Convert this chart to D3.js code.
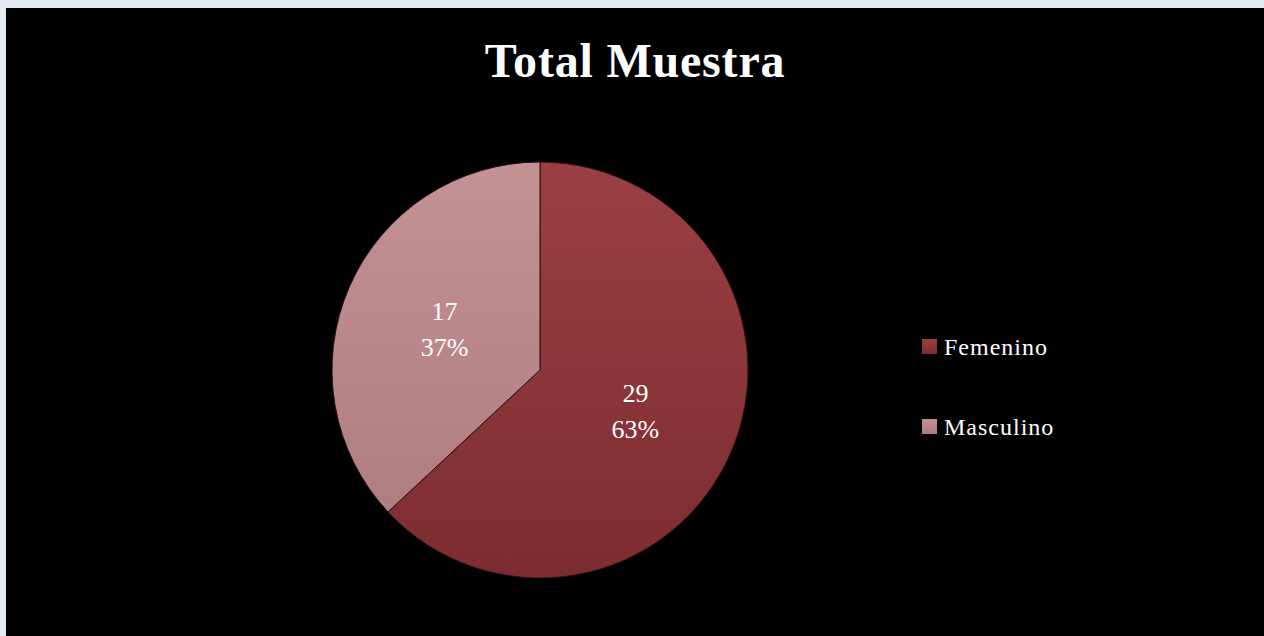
<!DOCTYPE html>
<html>
<head>
<meta charset="utf-8">
<script src="https://cdn.jsdelivr.net/npm/d3@7"></script>
<style>
  html, body { margin: 0; padding: 0; background: #e4e8f0; }
  #chart { position: absolute; left: 6px; top: 8px; }
</style>
</head>
<body>
<div id="chart"></div>
<script>
// data
const categories = ["Femenino", "Masculino"]
const counts = [29, 17]
const percents = ["63%", "37%"]
const topColors = ["#9a4044", "#c49294"]
const bottomColors = ["#7c2c30", "#ac7a7c"]

const width = 1258, height = 628
const svg = d3.select("#chart").append("svg")
    .attr("width", width).attr("height", height)
    .style("display", "block")

svg.append("rect").attr("width", width).attr("height", height).attr("fill", "#000")

const cx = 534, cy = 362, radius = 208

let defs = svg.append("defs")
categories.forEach((c, i) => {
    let grad = defs.append("linearGradient")
        .attr("id", "grad" + i)
        .attr("gradientUnits", "userSpaceOnUse")
        .attr("x1", 0).attr("y1", -radius).attr("x2", 0).attr("y2", radius)
    grad.append("stop").attr("offset", "0%").attr("stop-color", topColors[i])
    grad.append("stop").attr("offset", "100%").attr("stop-color", bottomColors[i])

    let lg = defs.append("linearGradient")
        .attr("id", "legGrad" + i)
        .attr("x1", 0).attr("y1", 0).attr("x2", 0).attr("y2", 1)
    lg.append("stop").attr("offset", "0%").attr("stop-color", topColors[i])
    lg.append("stop").attr("offset", "100%").attr("stop-color", bottomColors[i])
})

const serif = "'Palatino Linotype', Palatino, 'Book Antiqua', 'Liberation Serif', serif"

svg.append("text")
    .attr("x", 629).attr("y", 69)
    .attr("text-anchor", "middle")
    .style("font-family", serif)
    .style("font-weight", "bold")
    .style("font-size", "48px")
    .style("letter-spacing", "0.8px")
    .style("fill", "#fff")
    .text("Total Muestra")

let pie = d3.pie().sort(null).value(d => d)
let pieData = pie(counts)
let arc = d3.arc().innerRadius(0).outerRadius(radius)

const g = svg.append("g").attr("transform", `translate(${cx}, ${cy})`)

g.selectAll("path.slice")
    .data(pieData)
    .join("path")
    .attr("class", "slice")
    .attr("d", arc)
    .attr("fill", (d, i) => `url(#grad${i})`)
    .attr("stroke", "#2a1010")
    .style("stroke-width", "1px")

// slice labels
let labelArc = d3.arc().innerRadius(radius * 0.5).outerRadius(radius * 0.5)
let labels = g.selectAll("g.lab")
    .data(pieData)
    .join("g")
    .attr("class", "lab")
    .attr("transform", d => {
        let p = labelArc.centroid(d)
        return `translate(${p[0]}, ${p[1]})`
    })

labels.append("text")
    .attr("y", -9)
    .attr("text-anchor", "middle")
    .style("font-family", serif)
    .style("font-size", "26px")
    .style("fill", "#fff")
    .text((d, i) => counts[i])

labels.append("text")
    .attr("y", 27)
    .attr("text-anchor", "middle")
    .style("font-family", serif)
    .style("font-size", "26px")
    .style("fill", "#fff")
    .text((d, i) => percents[i])

// legend
let legend = svg.append("g").attr("transform", "translate(916, 331)")
categories.forEach((c, i) => {
    let row = legend.append("g").attr("transform", `translate(0, ${i * 80})`)
    row.append("rect")
        .attr("x", 0).attr("y", 0).attr("width", 15).attr("height", 15)
        .attr("fill", `url(#legGrad${i})`)
    row.append("text")
        .attr("x", 22).attr("y", 16)
        .style("font-family", serif)
        .style("font-size", "24px")
        .style("letter-spacing", "1px")
        .style("fill", "#fff")
        .text(c)
})
</script>
</body>
</html>
